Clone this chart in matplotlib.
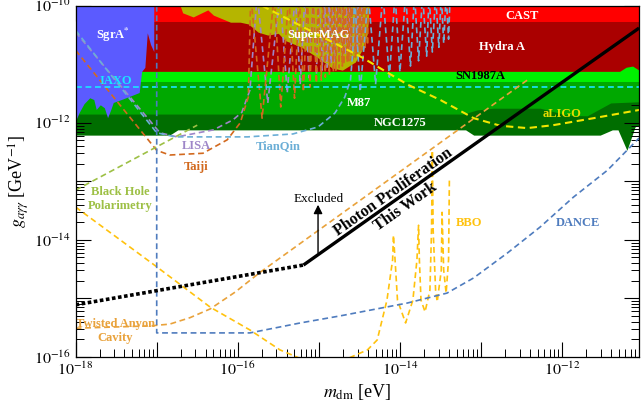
import numpy as np
import matplotlib
matplotlib.use("Agg")
import matplotlib.pyplot as plt
from matplotlib.ticker import LogLocator, FuncFormatter, NullFormatter

plt.rcParams['font.family'] = 'serif'
plt.rcParams['font.serif'] = ['Liberation Serif', 'DejaVu Serif']
plt.rcParams['mathtext.fontset'] = 'stix'

# ---------------- data: log10 of m_dm [eV] and of g [GeV^-1] ----------------
x_range = [-18.0, -11.05]
y_range = [-16.0, -10.0]

# exclusion regions (lower boundaries; filled up to the top)
cast_g = -10.27
hydra_m = [-18.0, -11.29, -11.21, -11.13, -11.05]
hydra_g = [-11.12, -11.12, -11.05, -11.03, -11.10]
sn1987a_g = -11.30
m87_m = [-18.0, -13.22, -13.05, -12.85, -12.27, -11.93, -11.69, -11.40, -11.05]
m87_g = [-11.85, -11.85, -11.78, -11.75, -11.75, -11.87, -11.88, -11.66, -11.64]
ngc_m = [-18.0, -16.84, -16.74, -13.19, -13.09, -11.53, -11.38, -11.31, -11.20, -11.10, -11.05]
ngc_g = [-12.21, -12.21, -12.12, -12.12, -12.21, -12.21, -12.12, -12.12, -12.47, -12.07, -12.04]
supermag_m = [-16.71, -16.68, -16.55, -16.37, -16.30, -16.09, -15.97, -15.87, -15.75, -15.63,
              -15.50, -15.42, -15.21, -15.01, -14.84, -14.71, -14.55, -14.47, -14.40, -14.38]
supermag_g = [-10.0, -10.12, -10.19, -10.07, -10.16, -10.28, -10.28, -10.31, -10.45, -10.50,
              -10.47, -10.59, -10.71, -10.89, -11.06, -11.10, -10.96, -10.76, -10.47, -10.0]
sgra_m = [-18.0, -17.03, -17.03, -17.07, -17.11, -17.14, -17.18, -17.21, -17.30, -17.43, -17.53,
          -17.56, -17.60, -17.64, -17.69, -17.74, -17.77, -17.82, -17.89, -17.95, -18.0]
sgra_g = [-10.0, -10.0, -10.79, -10.67, -10.47, -11.06, -11.13, -11.49, -11.54, -11.61, -11.66,
          -11.78, -11.92, -11.75, -11.70, -11.78, -11.61, -11.58, -11.68, -11.83, -11.99]

# projections
iaxo_g = -11.39
aligo_m = [-15.70, -14.47, -13.90, -13.50, -13.09, -12.76, -12.43, -12.11, -11.61, -11.05]
aligo_g = [-10.0, -10.88, -11.35, -11.61, -11.92, -12.05, -12.09, -12.04, -11.92, -11.78]

peak_off = -9.8   # resonance peaks run off the top of the chart

tianqin_m = [-18.0, -17.0, -16.77, -15.88, -15.32, -15.01, -14.80, -14.68, -14.61, -14.58]
tianqin_g = [-10.42, -12.17, -12.24, -12.24, -12.19, -12.07, -11.83, -11.56, -11.27, -10.76]
tianqin_pk = [-14.56, -14.39, -14.21, -14.06, -13.93, -13.82, -13.72, -13.64, -13.56, -13.49, -13.43, -13.38]
tianqin_min_m = [-14.49, -14.30, -14.13, -14.00, -13.87, -13.77, -13.67, -13.60, -13.52, -13.46, -13.40]
tianqin_min_g = [-11.47, -11.34, -11.22, -11.13, -11.03, -10.94, -10.86, -10.79, -10.71, -10.64, -10.57]

lisa_m = [-18.0, -16.96, -16.75, -16.30, -16.06, -15.95, -15.85]
lisa_g = [-10.45, -12.17, -12.24, -12.12, -11.95, -11.82, -11.44]
lisa_pk = [-15.76, -15.48, -15.29, -15.17, -15.07, -15.00, -14.93, -14.87, -14.82, -14.77,
           -14.74, -14.70, -14.66, -14.63, -14.60, -14.56, -14.54, -14.51, -14.49, -14.46]
lisa_min_m = [-15.63, -15.39, -15.23, -15.12, -15.03, -14.96, -14.90, -14.85, -14.80, -14.75,
              -14.71, -14.68, -14.64, -14.61, -14.58, -14.55, -14.53, -14.50, -14.48]
lisa_min_g = [-11.66, -11.49, -11.34, -11.23, -11.17, -11.10, -11.05, -11.00, -10.96, -10.91,
              -10.88, -10.84, -10.81, -10.77, -10.74, -10.72, -10.71, -10.67, -10.65]

taiji_m = [-18.0, -17.0, -16.84, -16.43, -16.13, -15.97, -15.87]
taiji_g = [-10.76, -12.47, -12.55, -12.52, -12.29, -12.00, -11.56]
taiji_pk = [-15.84, -15.55, -15.37, -15.24, -15.14, -15.07, -15.01, -14.95, -14.90, -14.85, -14.81,
            -14.77, -14.74, -14.70, -14.68, -14.64, -14.61, -14.59, -14.56, -14.54, -14.51, -14.49,
            -14.46, -14.44, -14.41, -14.39]
taiji_min_m = [-15.70, -15.47, -15.30, -15.19, -15.11, -15.03, -14.97, -14.92, -14.87, -14.82, -14.79,
               -14.75, -14.71, -14.69, -14.65, -14.63, -14.60, -14.58, -14.55, -14.53, -14.50, -14.48,
               -14.45, -14.43, -14.40]
taiji_min_g = [-11.92, -11.73, -11.58, -11.47, -11.39, -11.32, -11.27, -11.22, -11.18, -11.13, -11.10,
               -11.06, -11.03, -11.00, -10.96, -10.94, -10.93, -10.91, -10.88, -10.84, -10.81, -10.77,
               -10.74, -10.71, -10.67]

bhp_m = [-18.0, -16.50]
bhp_g = [-13.15, -12.04]

anyon_m = [-18.0, -17.08, -16.84, -16.59, -16.34, -16.03, -15.72, -12.43]
anyon_g = [-15.51, -15.47, -15.44, -15.33, -15.18, -14.89, -14.55, -11.27]

bbo_m = [-18.0, -17.0, -16.34, -15.85, -15.48, -15.19, -14.92, -14.68, -14.40, -14.28, -14.16,
         -14.09, -14.08, -14.06, -14.03, -13.93, -13.84, -13.79, -13.77, -13.76, -13.74, -13.69,
         -13.63, -13.61, -13.60, -13.59, -13.56, -13.54, -13.49, -13.48, -13.46, -13.43, -13.40, -13.39]
bbo_g = [-13.44, -14.46, -15.15, -15.54, -15.88, -16.05, -16.15, -16.05, -15.88, -15.71, -15.03,
         -14.34, -13.92, -14.34, -15.03, -15.42, -15.03, -14.34, -13.75, -14.34, -15.03, -15.23,
         -14.86, -13.83, -12.47, -13.83, -14.86, -15.06, -14.52, -13.53, -14.52, -14.91, -14.34, -12.98]

dance_m = [-17.0, -17.0, -15.85, -15.23, -14.74, -13.91, -13.42, -13.09, -12.67, -12.27, -11.86, -11.44, -11.05]
dance_g = [-10.0, -15.59, -15.59, -15.42, -15.30, -15.08, -14.91, -14.65, -14.22, -13.78, -13.27, -12.81, -12.26]

# this work
pp_dot_m = [-18.0, -15.19]
pp_dot_g = [-15.11, -14.43]
pp_m = [-15.19, -11.05]
pp_g = [-14.43, -10.38]
arrow_m = -15.01
arrow_g = [-14.22, -13.40]


def osc(m0, g0, pk, mn_m, mn_g):
    m, g = list(m0), list(g0)
    for i, p in enumerate(pk):
        m.append(p); g.append(peak_off)
        if i < len(mn_m):
            m.append(mn_m[i]); g.append(mn_g[i])
    return 10 ** np.array(m), 10 ** np.array(g)


def P(a):
    return 10 ** np.asarray(a, dtype=float)


fig = plt.figure(figsize=(6.41, 4.15), dpi=100)
ax = fig.add_axes([0.118, 0.140, 0.879, 0.846])
ax.set_xscale('log')
ax.set_yscale('log')
xl = P(x_range); yl = P(y_range)
ax.set_xlim(*xl)
ax.set_ylim(*yl)
top = 1e-9
full_m = P(x_range)

# ---- filled regions ----
ax.fill_between(P(ngc_m), P(ngc_g), top, color='#006E00', lw=0, zorder=1)
ax.fill_between(P(m87_m), P(m87_g), top, color='#00A800', lw=0, zorder=2)
ax.fill_between(full_m, P([sn1987a_g, sn1987a_g]), top, color='#00F000', lw=0, zorder=3)
ax.fill_between(P(hydra_m), P(hydra_g), top, color='#AA0000', lw=0, zorder=4)
ax.fill_between(full_m, P([cast_g, cast_g]), top, color='#FF0000', lw=0, zorder=5)
ax.fill_between(P(supermag_m), P(supermag_g), top, color='#B5B500', lw=0, zorder=6)
ax.fill(P(sgra_m), P(sgra_g), color='#5B5BFF', lw=0, zorder=7)

dash = (3.5, 2.2)
lw = 1.2
# ---- projection curves ----
ax.plot(full_m, P([iaxo_g, iaxo_g]), color='#19E6FF', lw=lw, dashes=dash, zorder=9)
ax.plot(P(aligo_m), P(aligo_g), color='#F2E600', lw=1.5, dashes=dash, zorder=9)
m, g = osc(lisa_m, lisa_g, lisa_pk, lisa_min_m, lisa_min_g)
ax.plot(m, g, color='#9E86C8', lw=lw, dashes=dash, zorder=8)
m, g = osc(taiji_m, taiji_g, taiji_pk, taiji_min_m, taiji_min_g)
ax.plot(m, g, color='#D2691E', lw=lw, dashes=dash, zorder=8)
m, g = osc(tianqin_m, tianqin_g, tianqin_pk, tianqin_min_m, tianqin_min_g)
ax.plot(m, g, color='#6BAED6', lw=lw, dashes=dash, zorder=8)
ax.plot(P(bhp_m), P(bhp_g), color='#9DC045', lw=lw, dashes=dash, zorder=9)
ax.plot(P(anyon_m), P(anyon_g), color='#E9A23B', lw=lw, dashes=dash, zorder=9)
ax.plot(P(bbo_m), P(bbo_g), color='#FFC20E', lw=lw, dashes=dash, zorder=9)
ax.plot(P(dance_m), P(dance_g), color='#4F7CBE', lw=lw, dashes=dash, zorder=9)

# ---- this work ----
ax.plot(P(pp_dot_m), P(pp_dot_g), color='k', lw=2.6, dashes=(1.0, 0.7), zorder=11)
ax.plot(P(pp_m), P(pp_g), color='k', lw=2.4, zorder=11, solid_capstyle='butt')
ax.annotate('', xy=(P(arrow_m), P(arrow_g[1])), xytext=(P(arrow_m), P(arrow_g[0])),
            arrowprops=dict(arrowstyle='-|>', color='k', lw=1.0, mutation_scale=13,
                            shrinkA=0, shrinkB=0), zorder=12)
ax.text(P(-15.00), P(-13.31), 'Excluded', fontsize=9.5, ha='center', va='center', zorder=12)
ax.text(P(-14.08), P(-13.18), 'Photon Proliferation', fontsize=11.5, fontweight='bold',
        rotation=35.2, rotation_mode='anchor', ha='center', va='center', zorder=12)
ax.text(P(-13.93), P(-13.44), 'This Work', fontsize=11.5, fontweight='bold',
        rotation=35.2, rotation_mode='anchor', ha='center', va='center', zorder=12)

# ---- labels ----
def lab(x, y, s, c, size=9):
    ax.text(P(x), P(y), s, color=c, fontsize=size, fontweight='bold', ha='center', va='center', zorder=13)

lab(-17.54, -10.50, r'SgrA$^{\mathbf{*}}$', 'white')
lab(-12.49, -10.18, 'CAST', 'white')
lab(-12.74, -10.71, 'Hydra A', 'white')
lab(-15.01, -10.50, 'SuperMAG', 'white')
lab(-13.01, -11.20, 'SN1987A', 'black')
lab(-14.51, -11.66, 'M87', 'white')
lab(-14.00, -12.00, 'NGC1275', 'white')
lab(-17.51, -11.29, 'IAXO', '#19E6FF')
lab(-12.00, -11.85, 'aLIGO', '#E8DC00')
lab(-16.51, -12.39, 'LISA', '#9E86C8')
lab(-16.51, -12.75, 'Taiji', '#D2691E')
lab(-15.50, -12.39, 'TianQin', '#6BAED6')
lab(-17.45, -13.19, 'Black Hole', '#9DC045')
lab(-17.45, -13.42, 'Polarimetry', '#9DC045')
lab(-17.51, -15.44, 'Twisted Anyon', '#E9A23B')
lab(-17.51, -15.68, 'Cavity', '#E9A23B')
lab(-13.15, -13.72, 'BBO', '#FFC20E')
lab(-11.80, -13.71, 'DANCE', '#4F7CBE')

# ---- axes styling ----
def fmt(v, pos):
    e = int(round(np.log10(v)))
    return r'$10^{%d}$' % e if e % 2 == 0 else ''

for axis in (ax.xaxis, ax.yaxis):
    axis.set_major_locator(LogLocator(base=10, numticks=30))
    axis.set_minor_locator(LogLocator(base=10, subs=np.arange(2, 10), numticks=30))
    axis.set_major_formatter(FuncFormatter(fmt))
    axis.set_minor_formatter(NullFormatter())
ax.tick_params(which='both', direction='in', top=True, right=True, labelsize=11.5, zorder=20)
ax.tick_params(which='major', length=11, width=0.8)
ax.tick_params(which='minor', length=5.5, width=0.7)
for s in ax.spines.values():
    s.set_zorder(20)
    s.set_linewidth(0.9)

ax.set_xlabel(r'$m_{\rm dm}$ [eV]', fontsize=13, labelpad=2)
ax.set_ylabel(r'$g_{a\gamma\gamma}$ [GeV$^{-1}$]', fontsize=13, labelpad=2)

fig.savefig('out.png', dpi=100)
